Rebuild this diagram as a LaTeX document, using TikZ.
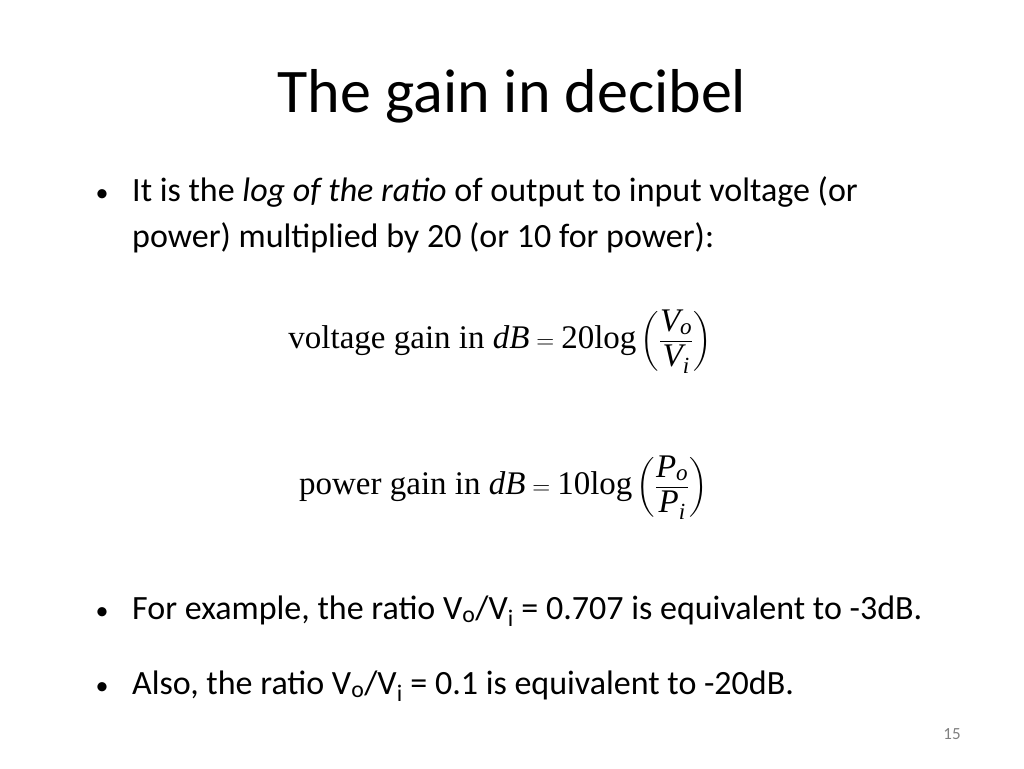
\documentclass[tikz,border=0pt]{standalone}
\usepackage{amsmath}
\usepackage{fontspec}
\setmainfont{Carlito}
\newfontfamily\eqfont{Liberation Serif}
\newcommand{\er}[1]{\text{\eqfont #1}}
\newcommand{\ei}[1]{\text{\eqfont\itshape #1}}
\begin{document}
\begin{tikzpicture}[x=1pt,y=-1pt,
  body/.style={anchor=base west,inner sep=0pt,font=\fontsize{34}{40}\selectfont},
  bul/.style={anchor=base,inner sep=0pt,font=\fontsize{26}{30}\selectfont},
  eq/.style={anchor=base east,inner sep=0pt,font=\fontsize{33}{40}\selectfont}]
\useasboundingbox[fill=white] (0,0) rectangle (1024,768);
\node[anchor=base,inner sep=0pt,font=\fontsize{62}{70}\selectfont] (title) at (512,112) {The gain in decibel};
\node[bul] (b1) at (102,201) {•};
\node[body] (t1) at (132,201) {It is the \textit{log of the ratio} of output to input voltage (or};
\node[body] (t1b) at (132,247) {power) multiplied by 20 (or 10 for power):};
\node[eq] (e1) at (712,348) {$\er{voltage gain in }\ei{dB} = \er{20log}\left(\dfrac{\ei{V}_{\ei{o}}}{\ei{V}_{\ei{i}}}\right)$};
\node[eq] (e2) at (708,494) {$\er{power gain in }\ei{dB} = \er{10log}\left(\dfrac{\ei{P}_{\ei{o}}}{\ei{P}_{\ei{i}}}\right)$};
\node[bul] (b2) at (102,619) {•};
\node[body] (t2) at (132,619) {For example, the ratio V\textsubscript{o}/V\textsubscript{i} = 0.707 is equivalent to -3dB.};
\node[bul] (b3) at (102,694) {•};
\node[body] (t3) at (132,694) {Also, the ratio V\textsubscript{o}/V\textsubscript{i} = 0.1 is equivalent to -20dB.};
\node[anchor=base,inner sep=0pt,text=gray,font=\fontsize{17}{20}\selectfont] (pg) at (952,739) {15};
\end{tikzpicture}
\end{document}
